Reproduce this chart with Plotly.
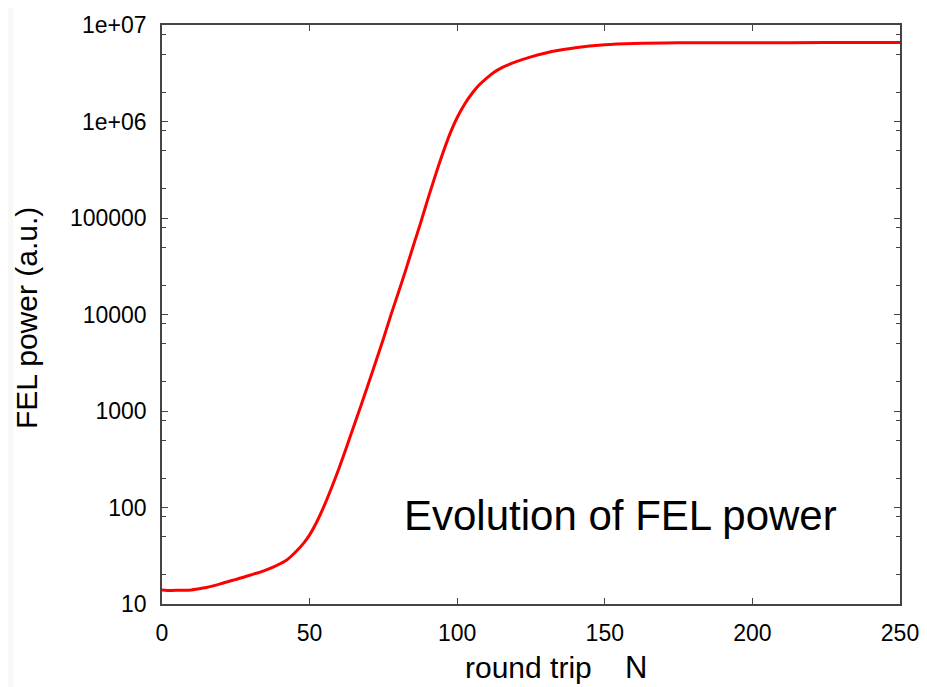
import plotly.graph_objects as go

# Data (round trip N vs FEL power, a.u.)
round_trip = [0, 3, 6, 9, 12, 15, 18, 21, 24, 27, 30, 33, 36, 39, 42, 45, 48, 50,
              52.5, 55, 57.5, 60, 62.5, 65, 67.5, 70, 72.5, 75, 77.5, 80, 82.5, 85,
              87.5, 90, 92.5, 95, 97.5, 100, 102.5, 105, 107.5, 110, 112.5, 115, 120,
              125, 130, 135, 140, 150, 160, 175, 200, 225, 250]
fel_power = [14.0, 13.8, 13.9, 13.9, 14.3, 14.8, 15.6, 16.6, 17.6, 18.7, 20.0, 21.3,
             23.0, 25.2, 28.2, 34.0, 42.7, 52.0, 71.6, 105.0, 162.0, 257.0, 422.0,
             700.0, 1160.0, 1950.0, 3300.0, 5600.0, 9800.0, 16600.0, 28500.0, 50000.0,
             87000.0, 155000.0, 270000.0, 457000.0, 740000.0, 1.1e6, 1.51e6, 1.95e6,
             2.4e6, 2.82e6, 3.24e6, 3.6e6, 4.17e6, 4.68e6, 5.13e6, 5.5e6, 5.82e6,
             6.24e6, 6.43e6, 6.53e6, 6.56e6, 6.57e6, 6.57e6]

x_tickvals = [0, 50, 100, 150, 200, 250]
y_tickvals = [10, 100, 1000, 10000, 100000, 1e6, 1e7]
y_ticktext = ["10", "100", "1000", "10000", "100000", "1e+06", "1e+07"]
y_minor = [m * 10 ** e for e in range(1, 7) for m in (2, 5, 8)]

FONT = "Liberation Sans, Arial, sans-serif"
AX = "#444444"

# plot area in figure pixels: left 154, right 892, top 17, bottom 596
W, H = 915, 679
PL, PR, PT, PB = 154, 892, 17, 596
PW, PH = PR - PL, PB - PT


def px(x):
    return (x - PL) / PW


def py(y):
    return (PB - y) / PH


fig = go.Figure()
fig.add_trace(go.Scatter(x=round_trip, y=fel_power, mode="lines",
                         line=dict(color="#ff0000", width=3, shape="spline", smoothing=0.8),
                         showlegend=False, hoverinfo="skip"))

fig.update_layout(
    width=W, height=H, autosize=False,
    margin=dict(l=PL, r=W - PR, t=PT, b=H - PB, pad=0, autoexpand=False),
    paper_bgcolor="white", plot_bgcolor="white",
    font=dict(family=FONT, color="black"),
    showlegend=False,
    shapes=[dict(type="rect", xref="paper", yref="paper",
                 x0=px(-2), x1=px(5), y0=py(H + 5), y1=py(-5),
                 fillcolor="#f8f8f8", line=dict(width=0), layer="below")],
    annotations=[
        dict(text="Evolution of FEL power", xref="paper", yref="paper",
             x=px(612), y=py(507), xanchor="center", yanchor="middle",
             showarrow=False, font=dict(size=42, family=FONT, color="black")),
        dict(text="round trip\u00a0\u00a0\u00a0\u00a0<span style='font-size:31px'>N</span>",
             xref="paper", yref="paper",
             x=px(455), y=py(659), xanchor="left", yanchor="middle",
             showarrow=False, font=dict(size=30, family=FONT, color="black")),
        dict(text="FEL power (a.u.)", xref="paper", yref="paper", textangle=-90,
             x=px(19), y=py(310), xanchor="center", yanchor="middle",
             showarrow=False, font=dict(size=30, family=FONT, color="black")),
    ],
)

fig.update_xaxes(range=[0, 250], tickvals=x_tickvals, ticks="inside", ticklen=6,
                 tickwidth=1.2, tickcolor=AX, showline=True, linecolor=AX, linewidth=1.5,
                 mirror="ticks", showgrid=False, zeroline=False, automargin=False,
                 tickfont=dict(size=23, family=FONT, color="black"), ticklabelstandoff=8)
fig.update_yaxes(type="log", range=[1, 7], tickvals=y_tickvals, ticktext=y_ticktext,
                 ticks="inside", ticklen=6, tickwidth=1.2, tickcolor=AX,
                 showline=True, linecolor=AX, linewidth=1.5, mirror="ticks",
                 showgrid=False, zeroline=False, automargin=False,
                 minor=dict(tickvals=y_minor, ticks="inside", ticklen=4, tickcolor=AX,
                            tickwidth=1.2, showgrid=False),
                 tickfont=dict(size=23, family=FONT, color="black"), ticklabelstandoff=9)

fig.write_html("out.html")
